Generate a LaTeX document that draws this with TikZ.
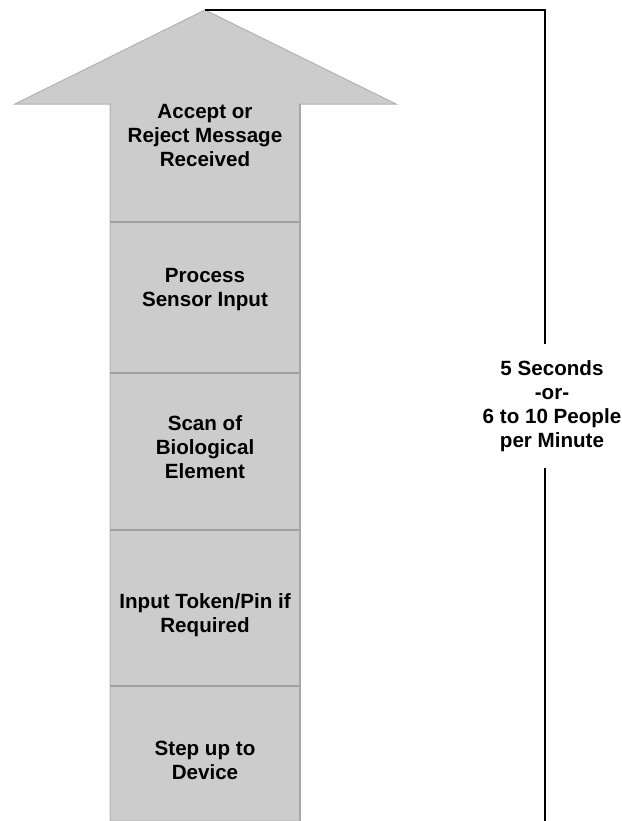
\documentclass[tikz,border=0pt]{standalone}
\usepackage{fontspec}
\setmainfont{Liberation Sans}
\begin{document}
\begin{tikzpicture}[x=0.5pt,y=-0.5pt,
		label/.style={align=center,inner sep=0pt,font=\fontsize{10.3}{12}\selectfont\bfseries},
		divider/.style={gray!75,line width=0.6pt}]
		\useasboundingbox (0,0) rectangle (622,821);
		% the big arrow
		\draw[fill=black!20,draw=gray!60,line width=0.5pt] (15,104) -- (205,10) -- (396,104) -- (300,104)
			-- (300,821) -- (110,821) -- (110,104) -- cycle;
		\draw[gray!70,line width=0.8pt] (300,104) -- (300,821);
		\foreach \y in {222,373,530,686} {
			\draw[divider] (110,\y) -- (300,\y);
		}
		\node[label] (accept) at (205,136) {Accept or\\Reject Message\\Received};
		\node[label] (process) at (205,290) {Process\\Sensor Input};
		\node[label] (scan) at (205,447) {Scan of\\Biological\\Element};
		\node[label] (token) at (205,615) {Input Token/Pin if\\Required};
		\node[label] (step) at (205,760) {Step up to\\Device};
		% time bracket
		\coordinate (tip) at (205,10);
		\coordinate (corner) at (545,10);
		\coordinate (bottom) at (545,821);
		\node[label,inner ysep=8pt] (time) at (552,406) {5 Seconds\\-or-\\6 to 10 People\\per Minute};
		\draw[line width=1.3pt] (tip) -- (corner) -- (corner |- time.north);
		\draw[line width=1.3pt] (bottom |- time.south) -- (bottom);
	\end{tikzpicture}
\end{document}
